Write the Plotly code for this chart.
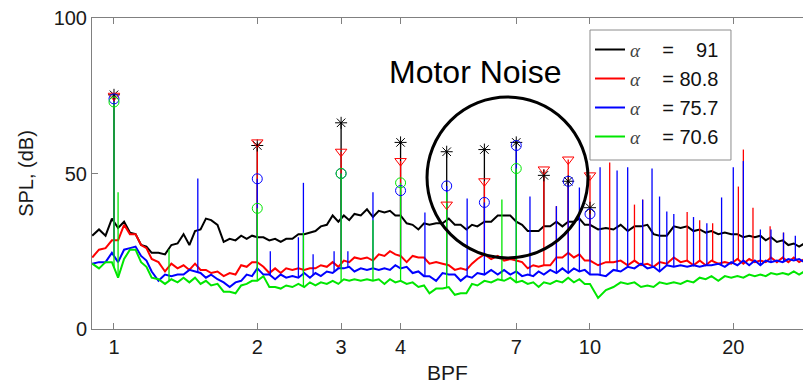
import numpy as np
import plotly.graph_objects as go

# ---------------- data ----------------
bpf = [0.90, 0.93, 0.96, 0.99, 1.02, 1.05, 1.08, 1.11, 1.14, 1.17,
       1.20, 1.24, 1.28, 1.32, 1.36, 1.40, 1.44, 1.48, 1.52, 1.56,
       1.60, 1.65, 1.70, 1.75, 1.80, 1.85, 1.90, 1.95, 2.00, 2.06,
       2.12, 2.18, 2.24, 2.30, 2.37, 2.44, 2.51, 2.58, 2.65, 2.72,
       2.80, 2.88, 2.96, 3.04, 3.12, 3.20, 3.30, 3.40, 3.50, 3.60,
       3.70, 3.80, 3.90, 4.00, 4.12, 4.24, 4.36, 4.48, 4.60, 4.75,
       4.90, 5.05, 5.20, 5.35, 5.50, 5.65, 5.80, 6.00, 6.20, 6.40,
       6.60, 6.80, 7.00, 7.20, 7.40, 7.60, 7.80, 8.00, 8.25, 8.50,
       8.75, 9.00, 9.25, 9.50, 9.75, 10.0, 10.4, 10.8, 11.2, 11.6,
       12.0, 12.4, 12.8, 13.2, 13.6, 14.0, 14.5, 15.0, 15.5, 16.0,
       16.5, 17.0, 17.5, 18.0, 18.6, 19.2, 19.8, 20.4, 21.0, 21.6,
       22.2, 22.8, 23.4, 24.0, 24.7, 25.4, 26.1, 26.8, 27.5, 28.2]

spl_a91 = [30.0, 32.0, 30.0, 35.5, 32.5, 34.5, 31.0, 30.5, 27.0, 26.5,
           24.5, 24.5, 24.0, 27.0, 27.5, 30.5, 27.0, 31.5, 32.0, 35.5,
           35.0, 33.5, 28.0, 29.0, 28.5, 30.0, 29.0, 30.0, 29.5, 29.5,
           28.5, 29.0, 28.0, 29.0, 29.0, 30.5, 30.5, 31.0, 31.5, 33.0,
           33.5, 36.5, 34.5, 36.5, 35.0, 37.0, 36.5, 38.5, 36.0, 38.0,
           37.5, 38.0, 36.5, 36.5, 34.0, 33.5, 32.0, 34.0, 33.5, 34.0,
           34.0, 35.5, 33.5, 33.5, 32.0, 33.5, 33.0, 34.5, 34.5, 36.5,
           36.5, 36.5, 34.5, 33.5, 31.5, 31.5, 31.5, 33.0, 33.0, 34.5,
           33.0, 34.5, 34.5, 35.5, 33.5, 33.5, 32.0, 32.5, 32.0, 33.5,
           31.5, 33.0, 33.0, 33.5, 30.5, 30.0, 30.0, 33.0, 32.5, 33.0,
           31.5, 32.0, 31.0, 31.5, 30.5, 31.0, 30.5, 30.5, 29.5, 30.0,
           29.5, 30.0, 28.5, 29.5, 28.0, 28.5, 27.0, 27.5, 26.5, 27.5]

spl_a808 = [23.0, 25.5, 26.0, 28.5, 28.5, 33.5, 30.5, 30.5, 27.0, 26.0,
            22.5, 21.5, 18.5, 21.0, 19.5, 20.5, 19.0, 21.0, 19.0, 19.0,
            18.0, 18.5, 17.0, 18.0, 17.5, 20.5, 20.0, 21.5, 21.5, 20.0,
            18.0, 19.5, 18.0, 19.5, 19.0, 19.5, 19.0, 19.5, 19.5, 20.5,
            20.0, 21.5, 20.0, 22.0, 21.5, 23.0, 22.5, 23.0, 22.0, 24.0,
            23.5, 25.0, 24.0, 23.5, 21.5, 23.5, 23.0, 23.0, 21.0, 21.5,
            21.0, 20.5, 19.0, 19.5, 19.0, 21.0, 22.5, 24.0, 22.5, 23.5,
            22.0, 22.5, 22.0, 21.5, 19.5, 20.5, 20.0, 20.5, 20.5, 23.0,
            23.0, 24.5, 23.0, 24.0, 22.0, 22.0, 20.5, 21.5, 21.5, 22.0,
            20.5, 22.0, 20.5, 21.0, 20.0, 21.5, 21.0, 23.0, 21.5, 22.0,
            20.5, 22.0, 20.5, 22.0, 21.0, 21.5, 21.0, 22.5, 21.0, 22.5,
            21.5, 22.0, 21.5, 23.0, 21.5, 23.0, 21.5, 23.0, 21.5, 22.5]

spl_a757 = [21.0, 21.5, 21.5, 24.5, 21.5, 25.5, 26.0, 26.5, 23.5, 22.0,
            18.5, 15.5, 17.5, 17.0, 17.5, 17.5, 19.0, 18.5, 18.0, 16.5,
            17.5, 16.0, 15.0, 13.5, 15.0, 15.5, 17.5, 17.0, 19.5, 17.5,
            17.5, 16.0, 17.5, 16.5, 17.0, 16.5, 18.0, 16.5, 18.0, 17.0,
            18.5, 18.0, 19.5, 19.5, 20.0, 18.5, 19.5, 19.0, 19.5, 19.0,
            19.5, 19.0, 20.5, 19.5, 20.0, 18.0, 18.5, 17.0, 17.0, 15.5,
            18.0, 17.5, 17.5, 15.5, 17.0, 16.5, 18.0, 17.5, 19.0, 17.5,
            19.0, 17.5, 18.5, 17.0, 17.5, 17.0, 18.5, 17.5, 19.0, 18.0,
            19.5, 18.0, 19.5, 18.5, 19.0, 17.5, 17.5, 17.0, 19.0, 18.5,
            20.0, 19.5, 21.0, 19.5, 20.0, 18.5, 20.5, 20.0, 20.5, 20.0,
            20.5, 20.0, 20.5, 20.5, 21.0, 20.0, 21.5, 20.5, 22.0, 20.5,
            22.0, 20.5, 22.0, 21.5, 22.0, 21.5, 22.5, 22.0, 22.5, 21.5]

spl_a706 = [21.0, 19.5, 21.5, 21.5, 16.5, 22.5, 25.5, 25.5, 21.5, 20.0,
            16.5, 16.0, 14.5, 16.0, 15.0, 16.5, 15.0, 16.5, 14.5, 15.5,
            14.0, 14.5, 12.0, 12.0, 11.5, 14.0, 14.5, 15.5, 15.5, 17.0,
            13.5, 13.5, 13.0, 14.0, 13.5, 14.5, 13.5, 15.0, 14.0, 15.0,
            14.5, 15.5, 14.5, 16.0, 15.5, 16.0, 15.5, 16.0, 15.5, 16.0,
            14.5, 16.0, 15.0, 15.5, 14.5, 15.0, 13.5, 14.0, 11.5, 13.0,
            13.0, 13.5, 11.0, 11.5, 11.5, 14.5, 14.0, 15.5, 15.0, 16.0,
            15.5, 16.5, 15.0, 15.5, 14.5, 15.0, 13.5, 15.0, 14.5, 15.5,
            15.0, 16.5, 15.0, 16.0, 14.5, 14.5, 10.0, 12.5, 13.5, 15.0,
            14.5, 15.0, 13.5, 14.0, 13.5, 15.0, 14.5, 15.0, 14.5, 15.5,
            15.0, 16.5, 16.0, 17.0, 15.5, 17.0, 16.5, 17.0, 16.5, 17.5,
            17.0, 17.5, 17.0, 18.0, 17.5, 18.0, 17.5, 18.5, 17.5, 18.5]

# blade-passing harmonics and their marked peak levels
harmonics = [1, 2, 3, 4, 5, 6, 7, 8, 9, 10]
peak_a91 = [75.3, 59.0, 66.3, 60.0, 57.0, 57.7, 60.0, 49.4, 47.5, 39.0]
peak_a808 = [75.0, 60.0, 57.0, 54.0, 40.0, 47.5, None, 51.3, 54.5, 49.4]
peak_a757 = [74.0, 48.3, 50.0, 44.5, 46.0, 40.7, 59.0, None, 47.5, 37.0]
peak_a706 = [73.0, 38.8, 50.0, 47.0, None, None, 51.6, None, None, None]

# other narrow tones
tone_f_a808 = [8.5, 11.0, 12.4, 12.9, 16.0, 17.0, 18.1, 20.5, 21.0, 22.0, 23.9, 25.5]
tone_l_a808 = [39.5, 53.5, 40.0, 41.6, 37.6, 35.0, 34.0, 45.8, 57.7, 39.0, 33.0, 31.0]
tone_f_a757 = [1.5, 2.13, 2.44, 2.5, 2.62, 2.9, 3.1, 3.5, 4.5, 5.52, 7.48, 8.5, 9.5,
               10.5, 11.4, 12.0, 12.9, 13.5, 14.0, 14.5, 15.0, 16.5, 17.6, 18.9,
               20.0, 21.0, 22.8, 24.0, 25.5, 27.0]
tone_l_a757 = [48.4, 25.0, 29.5, 47.0, 24.0, 25.0, 25.0, 44.0, 37.5, 42.0, 42.6, 39.5, 45.5,
               52.0, 51.0, 52.0, 41.6, 51.6, 42.6, 37.8, 37.0, 36.0, 34.0, 42.3,
               52.0, 54.0, 32.0, 32.0, 31.0, 30.0]
tone_f_a706 = [1.02, 1.305, 2.5, 3.5, 5.0, 6.53]
tone_l_a706 = [44.0, 25.6, 31.0, 35.0, 44.0, 41.6]

NB = "\u00a0"
series = [
    (NB * 3 + "91", spl_a91, peak_a91, [], [], "#000000", "asterisk-open"),
    ("80.8", spl_a808, peak_a808, tone_f_a808, tone_l_a808, "#ff0000", "triangle-down-open"),
    ("75.7", spl_a757, peak_a757, tone_f_a757, tone_l_a757, "#0000ff", "circle-open"),
    ("70.6", spl_a706, peak_a706, tone_f_a706, tone_l_a706, "#00e600", "circle-open"),
]

logf = np.log10(bpf)


def spike_segments(freqs, levels, base):
    sx, sy = [], []
    for f, p in zip(freqs, levels):
        if p is None:
            continue
        foot = float(np.interp(np.log10(f), logf, base))
        sx += [f, f, None]
        sy += [foot, p, None]
    return sx, sy


fig = go.Figure()
ALPHA = "<span style='font-family:Liberation Serif;font-size:19px;color:#444'><i>α</i></span>"

for label, base, peaks, tf, tl, color, sym in series:
    fig.add_trace(go.Scatter(
        x=bpf, y=base, mode="lines", line=dict(color=color, width=2),
        name=ALPHA + NB * 4 + "=" + NB + label, showlegend=True))
    sx, sy = spike_segments(list(harmonics) + tf, list(peaks) + tl, base)
    fig.add_trace(go.Scatter(
        x=sx, y=sy, mode="lines", line=dict(color=color, width=1.3),
        showlegend=False, hoverinfo="skip"))

for label, base, peaks, tf, tl, color, sym in series:
    hx = [h for h, p in zip(harmonics, peaks) if p is not None]
    hy = [p for p in peaks if p is not None]
    fig.add_trace(go.Scatter(
        x=hx, y=hy, mode="markers",
        marker=dict(symbol=sym, size=10, color=color, line=dict(width=1, color=color)),
        showlegend=False))

FONT = "Liberation Sans, Arial, sans-serif"
fig.update_layout(
    width=803, height=390,
    margin=dict(l=92, r=0, t=18, b=61),
    paper_bgcolor="white", plot_bgcolor="white",
    font=dict(family=FONT, size=20, color="#1a1a1a"),
    legend=dict(x=0.7004, y=0.9614, xanchor="left", yanchor="top",
                bgcolor="rgba(0,0,0,0)", borderwidth=0,
                font=dict(size=20, color="#111")),
    xaxis=dict(type="log", range=[-0.0462, 1.4475],
               tickvals=[1, 2, 3, 4, 7, 10, 20], ticktext=["1", "2", "3", "4", "7", "10", "20"],
               ticks="inside", ticklen=6, tickcolor="#808080",
               showline=True, linecolor="#808080", linewidth=1, mirror="ticks",
               showgrid=False, zeroline=False,
               title=dict(text="BPF", standoff=8, font=dict(size=21))),
    yaxis=dict(range=[0, 100], tickvals=[0, 50, 100], ticks="inside", ticklen=6,
               tickcolor="#808080", showline=True, linecolor="#808080", linewidth=1,
               showgrid=False, zeroline=False,
               title=dict(text="SPL, (dB)", standoff=14, font=dict(size=20))),
    annotations=[dict(text="Motor Noise", xref="paper", yref="paper",
                      x=0.5387, y=0.8264, xanchor="center", yanchor="middle",
                      showarrow=False,
                      font=dict(size=32, color="black", family=FONT))],
    shapes=[dict(type="circle", xref="paper", yref="paper",
                 x0=0.4712, x1=0.6976, y0=0.2283, y1=0.746,
                 line=dict(color="black", width=3)),
            dict(type="rect", xref="paper", yref="paper", layer="above",
                 x0=0.7004, x1=0.8987, y0=0.5434, y1=0.9614,
                 fillcolor="white", line=dict(color="#8c8c8c", width=1))],
)

fig.write_html("out.html")
